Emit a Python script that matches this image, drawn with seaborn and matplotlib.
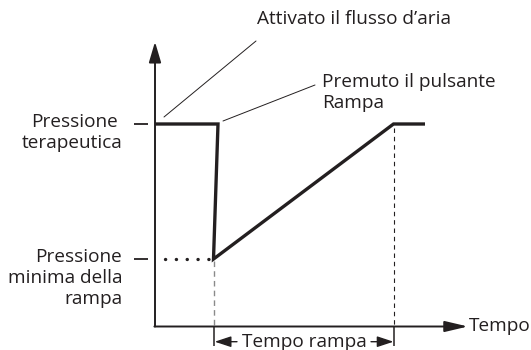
import matplotlib
matplotlib.use("Agg")
import matplotlib.pyplot as plt
import seaborn as sns
import pandas as pd

# ---- data (time in arbitrary units, pressure in arbitrary units) ----
time_pts = [0.0, 2.1, 1.95, 7.95, 9.0]
pressure_pts = [10.0, 10.0, 3.33, 10.0, 10.0]
therapeutic_level = 10.0
min_level = 3.33
ramp_start = 1.95
ramp_end = 7.95
dotted_start = 0.33
x_axis_end = 10.43
y_axis_end = 14.06

label_ther = ["Pressione", "terapeutica"]
label_min = ["Pressione", "minima della", "rampa"]
label_air = "Attivato il flusso d’aria"
label_button = ["Premuto il pulsante", "Rampa"]
label_xaxis = "Tempo"
label_ramp = "Tempo rampa"

sns.set_style("white")
plt.rcParams["font.family"] = ["Open Sans", "DejaVu Sans"]

W, H = 531, 350
fig = plt.figure(figsize=(W / 100, H / 100), dpi=100)
ax = fig.add_axes([0, 0, 1, 1])
ax.set_axis_off()

# pixel <-> data mapping: origin at px (155, 326.5); 30 px per time unit, 20.25 px per pressure unit
X0, Y0, SX, SY = 155.0, 326.5, 30.0, 20.25
ax.set_xlim(-X0 / SX, (W - X0) / SX)
ax.set_ylim((Y0 - H) / SY, Y0 / SY)

def px(x):
    return (x - X0) / SX

def py(y):
    return (Y0 - y) / SY

ink = "#231f20"
df = pd.DataFrame({"Tempo": time_pts, "Pressione": pressure_pts})
sns.lineplot(data=df, x="Tempo", y="Pressione", ax=ax, sort=False, estimator=None,
             color=ink, lw=2.4, solid_joinstyle="miter", solid_capstyle="butt")

# dotted continuation at minimum
ax.plot([dotted_start, ramp_start - 0.08], [min_level, min_level], color=ink, lw=2.4,
        linestyle=(0, (0.05, 3.2)), dash_capstyle="round")

# axes with arrows
ax.annotate("", xy=(0, y_axis_end), xytext=(0, 0), xycoords="data",
            arrowprops=dict(arrowstyle="-|>,head_length=1.25,head_width=0.37", lw=1.4, color=ink,
                            shrinkA=0, shrinkB=0, mutation_scale=10))
ax.annotate("", xy=(x_axis_end, 0), xytext=(0 - 0.02, 0), xycoords="data",
            arrowprops=dict(arrowstyle="-|>,head_length=1.4,head_width=0.33", lw=1.4, color=ink,
                            shrinkA=0, shrinkB=0, mutation_scale=10))

# level ticks
for lev in (therapeutic_level, min_level):
    ax.plot([px(134), px(148)], [lev, lev], color=ink, lw=1.3, solid_capstyle="butt")

# dashed verticals
ax.plot([ramp_start, ramp_start], [min_level - 0.1, 0], color="#8a8a8a", lw=1.0, linestyle=(0, (4, 3)))
ax.plot([ramp_end, ramp_end], [therapeutic_level - 0.2, 0], color=ink, lw=0.8, linestyle=(0, (4, 3.5)))
# solid ticks below axis
for t in (ramp_start + 0.03, ramp_end + 0.02):
    ax.plot([t, t], [0, py(346)], color=ink, lw=1.1, solid_capstyle="butt")

fs = 13.7
tc = "#231f20"
t_ramp = ax.text(px(304), py(342), label_ramp, ha="center", va="center", fontsize=fs, color=tc)

# Tempo rampa double arrow (leave a small gap around the text)
yr = py(341.7)
ax.annotate("", xy=(ramp_start + 0.04, yr), xytext=(px(237), yr),
            arrowprops=dict(arrowstyle="-|>,head_length=1.0,head_width=0.33", lw=1.0, color=ink,
                            shrinkA=0, shrinkB=0, mutation_scale=10))
ax.annotate("", xy=(ramp_end + 0.0, yr), xytext=(px(371), yr),
            arrowprops=dict(arrowstyle="-|>,head_length=1.0,head_width=0.33", lw=1.0, color=ink,
                            shrinkA=0, shrinkB=0, mutation_scale=10))

ax.text(px(469), py(326), label_xaxis, ha="left", va="center", fontsize=fs, color=tc)

# left labels
ax.text(px(118), py(122), label_ther[0], ha="right", va="center", fontsize=fs, color=tc)
ax.text(px(123), py(143), label_ther[1], ha="right", va="center", fontsize=fs, color=tc)
for i, s in enumerate(label_min):
    ax.text(px(122), py(257 + 21 * i), s, ha="right", va="center", fontsize=fs, color=tc)

# annotations with leader lines
ax.text(px(257), py(19), label_air, ha="left", va="center", fontsize=fs, color=tc)
ax.plot([px(256), px(164)], [py(41), py(117)], color=ink, lw=0.7)
ax.text(px(322), py(82), label_button[0], ha="left", va="center", fontsize=fs, color=tc)
ax.text(px(322), py(103), label_button[1], ha="left", va="center", fontsize=fs, color=tc)
ax.plot([px(315), px(223)], [py(85), py(121)], color=ink, lw=0.7)

fig.savefig("out.png", dpi=100)
